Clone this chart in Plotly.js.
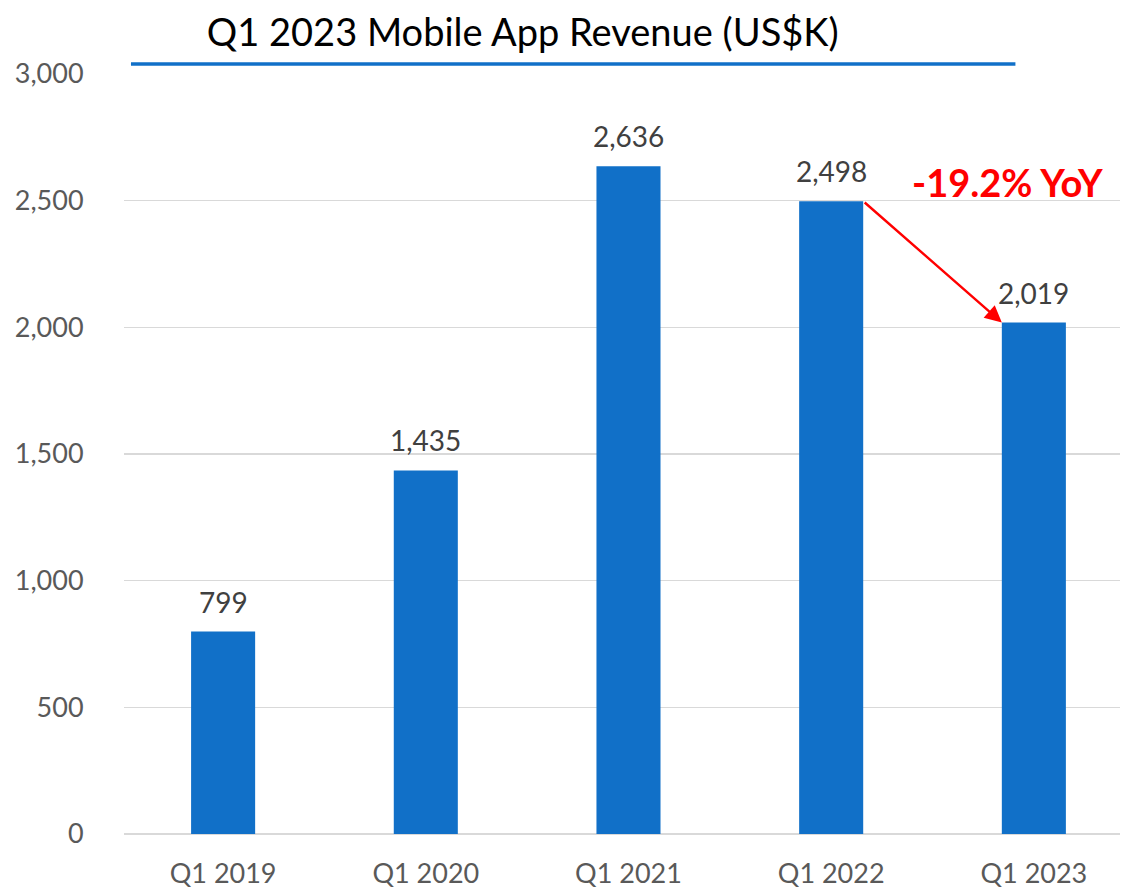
<!DOCTYPE html>
<html>
<head>
<meta charset="utf-8">
<script src="https://cdn.plot.ly/plotly-3.0.1.min.js"></script>
<style>html,body{margin:0;padding:0;background:#fff}#chart{width:1129px;height:889px}</style>
</head>
<body>
<div id="chart"></div>
<script>
const categories = ["Q1 2019", "Q1 2020", "Q1 2021", "Q1 2022", "Q1 2023"];
const revenue = [799, 1435, 2636, 2498, 2019];
const labels = ["799", "1,435", "2,636", "2,498", "2,019"];
const yTickVals = [0, 500, 1000, 1500, 2000, 2500, 3000];
const yTickText = ["0", "500", "1,000", "1,500", "2,000", "2,500", "3,000"];
const yoyText = "-19.2% YoY";

const FONT = "Lato, 'Noto Sans', sans-serif";
const halfBar = 0.158;

const trace = {
  type: "bar",
  x: categories,
  y: revenue,
  marker: {color: "#1170C8"},
  width: 0.316,
  hoverinfo: "skip"
};

const annotations = categories.map((c, i) => ({
  x: c, y: revenue[i], xref: "x", yref: "y",
  text: labels[i], showarrow: false, yanchor: "bottom", yshift: 11,
  font: {family: FONT, size: 28, color: "#404040"}
}));

annotations.push({
  x: 3.87, y: 2573, xref: "x", yref: "y",
  text: "<b>" + yoyText + "</b>", showarrow: false,
  font: {family: FONT, size: 38, color: "#FF0000"}
});
annotations.push({
  x: 4 - halfBar, y: revenue[4], ax: 3 + halfBar, ay: revenue[3],
  xref: "x", yref: "y", axref: "x", ayref: "y",
  text: "", showarrow: true, arrowhead: 2, arrowsize: 1.4, arrowwidth: 2.4,
  arrowcolor: "#FF0000", standoff: 0, startstandoff: 0
});

const layout = {
  width: 1129, height: 889,
  margin: {l: 124, r: 9, t: 74, b: 55},
  paper_bgcolor: "#fff", plot_bgcolor: "#fff",
  showlegend: false,
  title: {
    text: "Q1 2023 Mobile App Revenue (US$K)",
    font: {family: FONT, size: 38, color: "#000"},
    x: 0.463, xref: "container", xanchor: "center",
    y: 0.963, yref: "container", yanchor: "middle"
  },
  xaxis: {
    type: "category",
    range: [-0.489, 4.425],
    tickfont: {family: FONT, size: 27, color: "#595959"},
    ticks: "outside", ticklen: 16, tickcolor: "rgba(0,0,0,0)",
    showgrid: false, showline: false, zeroline: false, fixedrange: true
  },
  yaxis: {
    range: [0, 3000],
    tickvals: yTickVals, ticktext: yTickText,
    tickfont: {family: FONT, size: 27, color: "#595959"},
    ticks: "outside", ticklen: 34, tickcolor: "rgba(0,0,0,0)",
    showgrid: true, gridcolor: "#D9D9D9", gridwidth: 1.5,
    zeroline: true, zerolinecolor: "#D9D9D9", zerolinewidth: 1.5,
    showline: false, fixedrange: true
  },
  shapes: [{
    type: "line", xref: "paper", yref: "paper",
    x0: 0.007, x1: 0.895, y0: 1.013, y1: 1.013,
    line: {color: "#1170C8", width: 3.5}
  }],
  annotations: annotations
};

Plotly.newPlot("chart", [trace], layout, {displayModeBar: false, staticPlot: true});
</script>
</body>
</html>
